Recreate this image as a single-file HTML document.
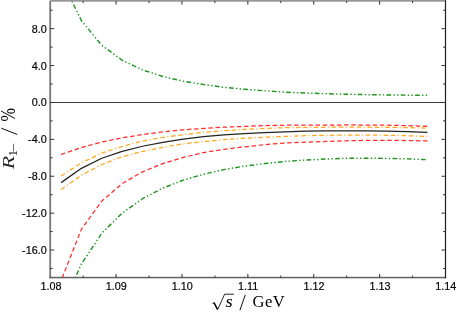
<!DOCTYPE html>
<html><head><meta charset="utf-8"><title>plot</title>
<style>
html,body{margin:0;padding:0;background:#fff;}
body{width:457px;height:312px;overflow:hidden;position:relative;-webkit-font-smoothing:antialiased;font-family:"Liberation Sans",sans-serif;}
svg{position:absolute;left:0;top:0;}
</style></head><body>
<svg width="457" height="312" viewBox="0 0 457 312">

<defs><clipPath id="cp"><rect x="50" y="0.9" width="396" height="276.9"/></clipPath></defs>
<g fill="none" stroke-width="1.25" stroke-linejoin="round" clip-path="url(#cp)">
<path d="M61.10 -20.96 L81.45 20.70 L101.80 45.30 L122.15 60.26 L142.50 69.92 L162.85 76.49 L183.20 81.18 L203.55 84.55 L223.90 87.29 L244.25 89.25 L264.60 90.81 L284.95 92.16 L305.30 93.04 L325.65 93.69 L346.00 94.22 L366.35 94.62 L386.70 94.92 L407.05 95.15 L427.40 95.31" stroke="#1e961e" stroke-dasharray="4.65 2.35 1.35 2.33 1.35 2.3" stroke-width="1.45" stroke-dashoffset="0.30"/>
<path d="M61.10 308.72 L81.45 263.95 L101.80 233.19 L122.15 213.16 L142.50 198.72 L162.85 188.11 L183.20 180.13 L203.55 174.25 L223.90 169.63 L244.25 166.17 L264.60 163.57 L284.95 161.47 L305.30 160.07 L325.65 159.06 L346.00 158.28 L366.35 158.28 L386.70 158.37 L407.05 158.88 L427.40 159.71" stroke="#1e961e" stroke-dasharray="4.65 2.35 1.35 2.33 1.35 2.3" stroke-width="1.45" stroke-dashoffset="5.60"/>
<path d="M61.10 280.65 L81.45 229.11 L101.80 201.03 L122.15 183.66 L142.50 171.80 L162.85 163.57 L183.20 157.44 L203.55 152.62 L223.90 149.29 L244.25 146.80 L264.60 144.62 L284.95 143.00 L305.30 142.13 L325.65 141.49 L346.00 140.80 L366.35 140.37 L386.70 140.31 L407.05 140.53 L427.40 140.90" stroke="#ff2a2a" stroke-dasharray="4.45 2.7" stroke-dashoffset="-2.80"/>
<path d="M61.10 154.39 L81.45 147.57 L101.80 142.01 L122.15 137.84 L142.50 134.50 L162.85 131.94 L183.20 129.79 L203.55 128.44 L223.90 127.20 L244.25 126.44 L264.60 125.56 L284.95 125.24 L305.30 125.15 L325.65 125.07 L346.00 124.99 L366.35 125.01 L386.70 125.23 L407.05 125.68 L427.40 126.30" stroke="#ff2a2a" stroke-dasharray="4.45 2.7"/>
<path d="M61.10 175.92 L81.45 162.79 L101.80 153.14 L122.15 146.37 L142.50 141.13 L162.85 137.28 L183.20 134.72 L203.55 132.33 L223.90 130.73 L244.25 129.46 L264.60 128.44 L284.95 127.68 L305.30 127.38 L325.65 127.25 L346.00 127.19 L366.35 127.20 L386.70 127.33 L407.05 127.65 L427.40 128.10" stroke="#ffa820" stroke-dasharray="4.6 2.45 1.15 2.45 4.6 2.65"/>
<path d="M61.10 189.60 L81.45 175.23 L101.80 164.49 L122.15 156.76 L142.50 151.45 L162.85 147.37 L183.20 143.86 L203.55 141.61 L223.90 139.57 L244.25 138.21 L264.60 137.26 L284.95 136.40 L305.30 135.65 L325.65 135.29 L346.00 135.19 L366.35 135.17 L386.70 135.25 L407.05 135.69 L427.40 136.44" stroke="#ffa820" stroke-dasharray="4.6 2.45 1.15 2.45 4.6 2.65"/>
<path d="M61.10 182.63 L81.45 168.34 L101.80 158.24 L122.15 151.32 L142.50 146.26 L162.85 142.39 L183.20 139.12 L203.55 136.68 L223.90 134.91 L244.25 133.69 L264.60 132.58 L284.95 131.82 L305.30 131.20 L325.65 130.89 L346.00 130.77 L366.35 130.82 L386.70 131.05 L407.05 131.57 L427.40 132.27" stroke="#222222"/>
</g>
<line x1="50" y1="102.46" x2="445.5" y2="102.46" stroke="#404040" stroke-width="1.15"/>
<rect x="49.3" y="1" width="1.8" height="277.3" fill="#787878"/>
<rect x="49.9" y="0" width="396.2" height="1.7" fill="#969696"/>
<rect x="49.3" y="276.8" width="396.8" height="1.5" fill="#606060"/>
<rect x="444.9" y="0.3" width="1.2" height="278" fill="#1e1e1e"/>
<g stroke="#333" stroke-width="1">
<line x1="83.14" y1="277.70" x2="83.14" y2="275.60"/>
<line x1="83.14" y1="1.00" x2="83.14" y2="3.10"/>
<line x1="116.08" y1="277.70" x2="116.08" y2="274.00"/>
<line x1="116.08" y1="1.00" x2="116.08" y2="4.70"/>
<line x1="149.02" y1="277.70" x2="149.02" y2="275.60"/>
<line x1="149.02" y1="1.00" x2="149.02" y2="3.10"/>
<line x1="181.97" y1="277.70" x2="181.97" y2="274.00"/>
<line x1="181.97" y1="1.00" x2="181.97" y2="4.70"/>
<line x1="214.91" y1="277.70" x2="214.91" y2="275.60"/>
<line x1="214.91" y1="1.00" x2="214.91" y2="3.10"/>
<line x1="247.85" y1="277.70" x2="247.85" y2="274.00"/>
<line x1="247.85" y1="1.00" x2="247.85" y2="4.70"/>
<line x1="280.79" y1="277.70" x2="280.79" y2="275.60"/>
<line x1="280.79" y1="1.00" x2="280.79" y2="3.10"/>
<line x1="313.73" y1="277.70" x2="313.73" y2="274.00"/>
<line x1="313.73" y1="1.00" x2="313.73" y2="4.70"/>
<line x1="346.67" y1="277.70" x2="346.67" y2="275.60"/>
<line x1="346.67" y1="1.00" x2="346.67" y2="3.10"/>
<line x1="379.62" y1="277.70" x2="379.62" y2="274.00"/>
<line x1="379.62" y1="1.00" x2="379.62" y2="4.70"/>
<line x1="412.56" y1="277.70" x2="412.56" y2="275.60"/>
<line x1="412.56" y1="1.00" x2="412.56" y2="3.10"/>
<line x1="50.20" y1="268.48" x2="52.70" y2="268.48"/>
<line x1="445.50" y1="268.48" x2="443.00" y2="268.48"/>
<line x1="50.20" y1="250.03" x2="54.20" y2="250.03"/>
<line x1="445.50" y1="250.03" x2="441.50" y2="250.03"/>
<line x1="50.20" y1="231.58" x2="52.70" y2="231.58"/>
<line x1="445.50" y1="231.58" x2="443.00" y2="231.58"/>
<line x1="50.20" y1="213.14" x2="54.20" y2="213.14"/>
<line x1="445.50" y1="213.14" x2="441.50" y2="213.14"/>
<line x1="50.20" y1="194.69" x2="52.70" y2="194.69"/>
<line x1="445.50" y1="194.69" x2="443.00" y2="194.69"/>
<line x1="50.20" y1="176.24" x2="54.20" y2="176.24"/>
<line x1="445.50" y1="176.24" x2="441.50" y2="176.24"/>
<line x1="50.20" y1="157.80" x2="52.70" y2="157.80"/>
<line x1="445.50" y1="157.80" x2="443.00" y2="157.80"/>
<line x1="50.20" y1="139.35" x2="54.20" y2="139.35"/>
<line x1="445.50" y1="139.35" x2="441.50" y2="139.35"/>
<line x1="50.20" y1="120.90" x2="52.70" y2="120.90"/>
<line x1="445.50" y1="120.90" x2="443.00" y2="120.90"/>
<line x1="50.20" y1="102.46" x2="54.20" y2="102.46"/>
<line x1="445.50" y1="102.46" x2="441.50" y2="102.46"/>
<line x1="50.20" y1="84.01" x2="52.70" y2="84.01"/>
<line x1="445.50" y1="84.01" x2="443.00" y2="84.01"/>
<line x1="50.20" y1="65.56" x2="54.20" y2="65.56"/>
<line x1="445.50" y1="65.56" x2="441.50" y2="65.56"/>
<line x1="50.20" y1="47.12" x2="52.70" y2="47.12"/>
<line x1="445.50" y1="47.12" x2="443.00" y2="47.12"/>
<line x1="50.20" y1="28.67" x2="54.20" y2="28.67"/>
<line x1="445.50" y1="28.67" x2="441.50" y2="28.67"/>
<line x1="50.20" y1="10.22" x2="52.70" y2="10.22"/>
<line x1="445.50" y1="10.22" x2="443.00" y2="10.22"/>
</g>
</svg>
<svg width="457" height="312" viewBox="0 0 457 312" style="will-change:transform" font-family="Liberation Sans, sans-serif" font-size="10.8" fill="#000" stroke="#000" stroke-width="0.18">
<text x="46.7" y="32.62" text-anchor="end">8.0</text>
<text x="46.7" y="69.51" text-anchor="end">4.0</text>
<text x="46.7" y="106.41" text-anchor="end">0.0</text>
<text x="46.7" y="143.30" text-anchor="end">-4.0</text>
<text x="46.7" y="180.19" text-anchor="end">-8.0</text>
<text x="46.7" y="217.09" text-anchor="end">-12.0</text>
<text x="46.7" y="253.98" text-anchor="end">-16.0</text>
<text x="51.00" y="289.9" text-anchor="middle">1.08</text>
<text x="116.38" y="289.9" text-anchor="middle">1.09</text>
<text x="182.27" y="289.9" text-anchor="middle">1.10</text>
<text x="248.15" y="289.9" text-anchor="middle">1.11</text>
<text x="314.03" y="289.9" text-anchor="middle">1.12</text>
<text x="379.92" y="289.9" text-anchor="middle">1.13</text>
<text x="445.80" y="289.9" text-anchor="middle">1.14</text>
</svg>
<svg width="457" height="312" viewBox="0 0 457 312" style="will-change:transform" font-family="Liberation Serif, serif" fill="#000">
<path d="M212.4 303.7 L214.1 302.5" fill="none" stroke="#000" stroke-width="0.8"/>
<path d="M214.0 302.6 L217.5 309.4" fill="none" stroke="#000" stroke-width="1.5"/>
<path d="M217.5 309.9 L224.6 294.2 L233.9 294.2" fill="none" stroke="#000" stroke-width="0.85"/>
<text x="0" y="0" font-size="16.6" font-style="italic" transform="translate(225.6 306.6) scale(1.12 1)">s</text>
<path d="M239.9 310.2 L245.3 294.8" fill="none" stroke="#000" stroke-width="0.95"/>
<text x="252.6" y="306.9" font-size="16.6" letter-spacing="0.45">GeV</text>
<g transform="translate(14 171) rotate(-90)">
<text x="0" y="0" font-size="17.0" font-style="italic" fill="#262626" transform="translate(1.8 0) scale(1.29 1)">R</text>
<text x="14.7" y="2.5" font-size="12.0">1</text>
<text x="0" y="0" font-size="12.2" transform="translate(18.96 4.2) scale(1.36 1)">&#8722;</text>
<path d="M36.5 3.3 L42.8 -12.7" fill="none" stroke="#000" stroke-width="0.95"/>
<text x="0" y="0" font-size="17.4" transform="translate(49.6 0.9) scale(0.93 1.2)">%</text>
</g>
</svg>
</body></html>
